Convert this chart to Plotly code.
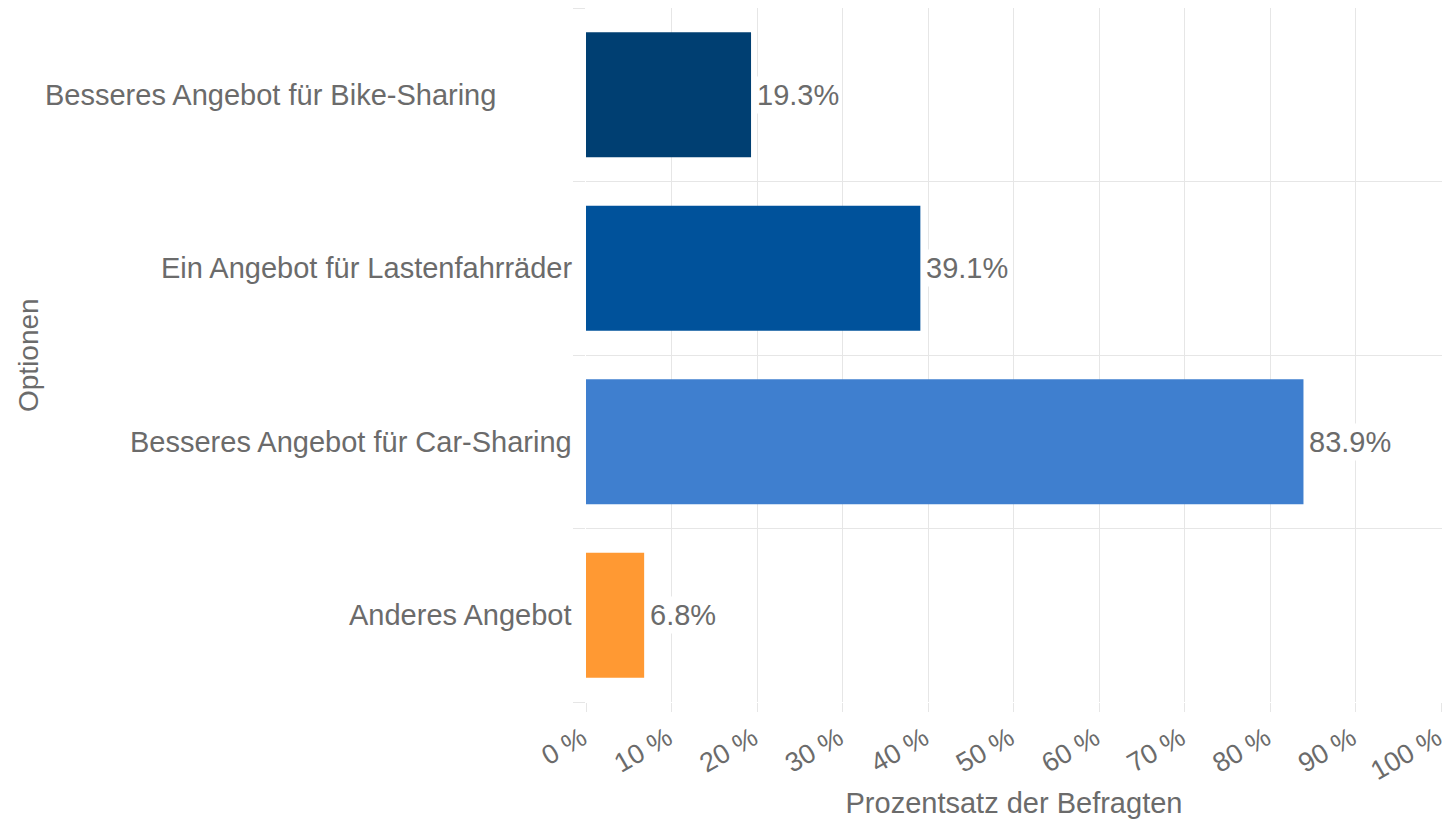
import plotly.graph_objects as go

categories = ["Besseres Angebot für Bike-Sharing", "Ein Angebot für Lastenfahrräder",
              "Besseres Angebot für Car-Sharing", "Anderes Angebot"]
values = [19.3, 39.1, 83.9, 6.8]
colors = ["#003F72", "#00529B", "#3F7FCF", "#FF9933"]
x_ticks = list(range(0, 101, 10))
x_ticktext = [f"{v} %" for v in x_ticks]
label_extra_shift = [-76, 0, 0, 0]  # label offsets seen in the reference

FONT = "Liberation Sans, Arial, sans-serif"
TXT = "#6b6b6b"
GRID = "#e6e6e6"

L, R, T, B = 586, 6, 8, 117
W, H = 1448, 819
PW = W - L - R

fig = go.Figure()
fig.add_trace(go.Bar(
    x=values, y=categories, orientation="h",
    marker=dict(color=colors, line=dict(width=0)),
    width=0.72, hoverinfo="skip", showlegend=False,
))

for c, v in zip(categories, values):
    fig.add_annotation(x=v, y=c, text=f"{v}%", showarrow=False, xanchor="left",
                       xshift=3, bgcolor="white", borderpad=2,
                       font=dict(family=FONT, size=29, color=TXT))

for c, s in zip(categories, label_extra_shift):
    fig.add_annotation(x=0, xref="paper", y=c, yref="y", text=c, showarrow=False,
                       xanchor="right", xshift=-12 + s,
                       font=dict(family=FONT, size=29, color=TXT))

fig.add_annotation(x=(28 - L) / PW, xref="paper", y=0.5, yref="paper",
                   text="Optionen", textangle=-90, showarrow=False,
                   xanchor="center", yanchor="middle",
                   font=dict(family=FONT, size=28, color=TXT))

fig.update_layout(
    width=W, height=H,
    margin=dict(l=L, r=R, t=T, b=B),
    plot_bgcolor="white", paper_bgcolor="white",
    font=dict(family=FONT, size=28, color=TXT),
    xaxis=dict(
        range=[0, 100.1], tickvals=x_ticks, ticktext=x_ticktext, tickangle=-30,
        showgrid=True, gridcolor=GRID, gridwidth=1,
        ticks="outside", ticklen=9, tickcolor=GRID, tickwidth=1,
        zeroline=False, showline=False, automargin=False,
        ticklabeloverflow="allow", ticklabelshift=-4,
        title=dict(text="Prozentsatz der Befragten", standoff=14,
                   font=dict(family=FONT, size=29, color=TXT)),
        tickfont=dict(family=FONT, size=27, color=TXT),
    ),
    yaxis=dict(
        type="category", categoryorder="array", categoryarray=categories[::-1],
        range=[-0.5, 3.5], tickson="boundaries",
        showgrid=True, gridcolor=GRID, gridwidth=1,
        ticks="outside", ticklen=12, tickcolor=GRID, tickwidth=1,
        zeroline=False, showline=False, automargin=False,
        showticklabels=False,
    ),
)

fig.write_html("out.html", config={"displayModeBar": False},
               post_script="document.body.style.margin='0';document.body.style.overflow='hidden';")
